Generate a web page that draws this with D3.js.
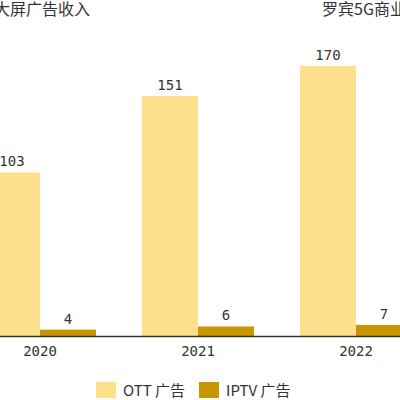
<!DOCTYPE html>
<html><head><meta charset="utf-8">
<script src="https://cdn.jsdelivr.net/npm/d3@7"></script>
<style>body{margin:0;background:#fff}svg{display:block}</style>
</head><body>
<svg id="c" width="400" height="400"></svg>
<script>
const years = ["2020", "2021", "2022"];
const seriesNames = ["OTT 广告", "IPTV 广告"];
const ottValues = [103, 151, 170];
const iptvValues = [4, 6, 7];
const seriesColors = ["#fde08b", "#c89600"];
const titleLeft = "大屏广告收入";
const titleRight = "罗宾5G商业研究";

const svg = d3.select("#c");
const mono = "'DejaVu Sans Mono', monospace";
const sans = "'Noto Sans CJK SC', 'Noto Sans', sans-serif";
const baseY = 336, topY = 66;

const data = years.map((y, i) => ({year: y, vals: [ottValues[i], iptvValues[i]]}));

const x0 = d3.scaleBand().domain(years).range([-39, 435]).padding(0);
const x1 = d3.scaleBand().domain(seriesNames).range([23, 135]).padding(0);
const y = d3.scaleLinear().domain([0, 170]).range([baseY, topY]);

const g = svg.append("g");
const groups = g.selectAll("g.grp").data(data).join("g")
  .attr("transform", d => `translate(${x0(d.year)},0)`);

groups.selectAll("rect").data(d => d.vals.map((v, k) => ({k, v}))).join("rect")
  .attr("x", d => x1(seriesNames[d.k]))
  .attr("width", x1.bandwidth())
  .attr("y", d => y(d.v))
  .attr("height", d => baseY - y(d.v))
  .attr("fill", d => seriesColors[d.k]);

groups.selectAll("text").data(d => d.vals.map((v, k) => ({k, v}))).join("text")
  .attr("x", d => x1(seriesNames[d.k]) + x1.bandwidth() / 2)
  .attr("y", d => y(d.v) - 6)
  .attr("text-anchor", "middle")
  .attr("font-family", mono).attr("font-size", 14).attr("fill", "#333")
  .text(d => d.v);

// x axis
const xAxis = d3.axisBottom(x0).tickSize(0).tickPadding(10);
const ax = svg.append("g").attr("transform", `translate(0,${baseY})`).call(xAxis);
ax.select(".domain").attr("stroke", "#333").attr("stroke-width", 1.5).attr("d", "M0,0.5H400");
ax.selectAll("text").attr("font-family", mono).attr("font-size", 14).attr("fill", "#333");

// titles
svg.append("text").attr("x", -6).attr("y", 15)
  .attr("font-family", sans).attr("font-size", 16).attr("fill", "#333").text(titleLeft);
svg.append("text").attr("x", 322).attr("y", 15)
  .attr("font-family", sans).attr("font-size", 16).attr("fill", "#333").text(titleRight);

// legend
const legX = [96, 199];
const leg = svg.append("g");
seriesNames.forEach((n, i) => {
  leg.append("rect").attr("x", legX[i]).attr("y", 382).attr("width", 20).attr("height", 16)
    .attr("fill", seriesColors[i]);
  leg.append("text").attr("x", legX[i] + 27).attr("y", 396)
    .attr("font-family", sans).attr("font-size", 15).attr("fill", "#333").text(n);
});
</script>
</body></html>
